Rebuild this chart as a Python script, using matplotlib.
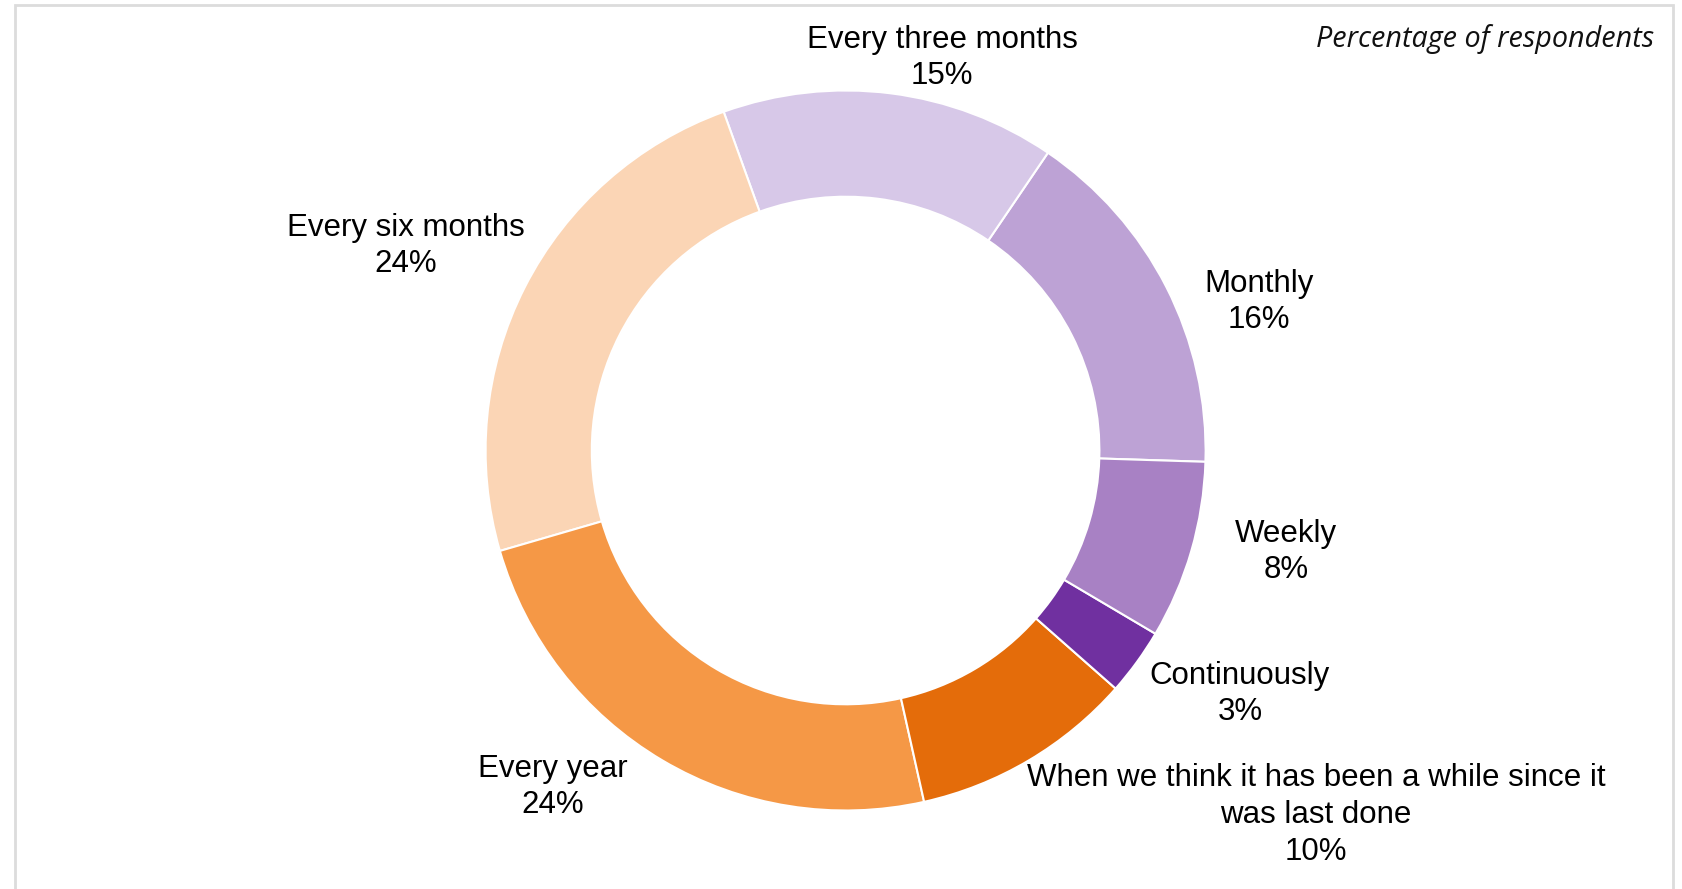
import matplotlib.pyplot as plt
from matplotlib.patches import Rectangle

categories = ["Monthly", "Every three months", "Every six months", "Every year",
              "When we think it has been a while since it\nwas last done",
              "Continuously", "Weekly"]
shares = [16, 15, 24, 24, 10, 3, 8]
colors = ["#BDA2D5", "#D7C8E8", "#FBD5B5", "#F59846", "#E46C0A", "#7030A0", "#A881C4"]

# label anchor points in pixels (x, y from top)
label_px = [(1259, 302), (942, 58), (406, 246), (553, 787), (1316, 815), (1240, 694), (1286, 552)]

W, H = 1683, 889
cx, cy, R = 845.6, 450.5, 360.0

fig = plt.figure(figsize=(W / 100, H / 100), dpi=100)
ax = fig.add_axes([0, 0, 1, 1])
ax.axis("off")

ax.pie(shares, colors=colors, startangle=-1.8, counterclock=True, radius=1.0,
       wedgeprops=dict(width=0.295, edgecolor="white", linewidth=1.5))
ax.set_xlim(-cx / R, (W - cx) / R)
ax.set_ylim(-(H - cy) / R, cy / R)

for name, val, (px, py) in zip(categories, shares, label_px):
    ax.text((px - cx) / R, (cy - py) / R, f"{name}\n{val}%", ha="center", va="center",
            fontsize=22.5, family="Liberation Sans", color="#000000", linespacing=1.3)

fig.text(1654 / W, 1 - 39 / H, "Percentage of respondents", ha="right", va="center",
         fontsize=20.7, style="italic", family="Open Sans", color="#111111")

# light frame around the chart area
fig.patches.append(Rectangle((15, -20), 1658, 889 - 5 + 20, transform=None,
                             fill=False, edgecolor="#DCDCDC", linewidth=2))

fig.savefig("out.png", dpi=100)
